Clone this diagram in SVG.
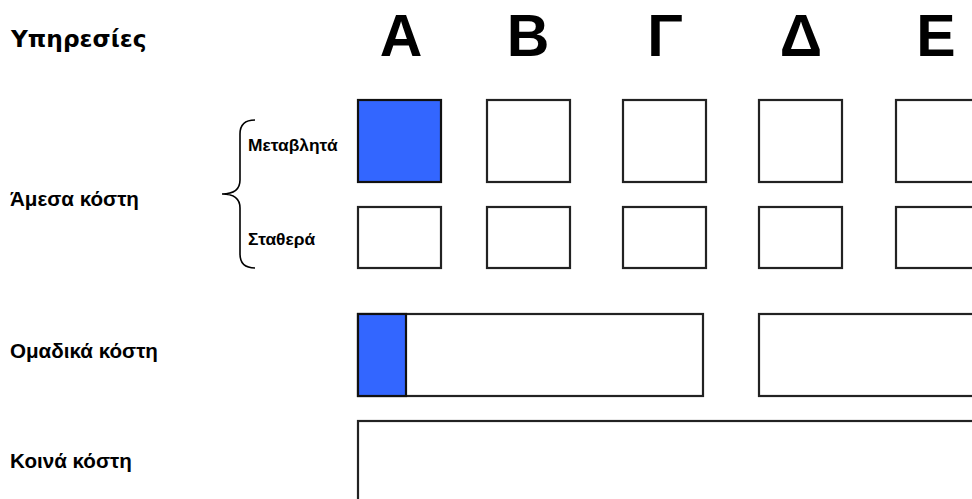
<svg xmlns="http://www.w3.org/2000/svg" width="972" height="499" viewBox="0 0 972 499">
<style>
.box{fill:#ffffff;stroke:#222222;stroke-width:2.2}
.blue{fill:#3366ff;stroke:#111111;stroke-width:2.2}
.hdr{font-family:"DejaVu Sans",sans-serif;font-weight:bold;font-size:23.3px;fill:#000}
.col{font-family:"Liberation Sans",Arial,sans-serif;font-weight:bold;font-size:59px;fill:#000;text-anchor:middle}
.row{font-family:"Liberation Sans",Arial,sans-serif;font-weight:bold;font-size:20.6px;fill:#000}
.sub{font-family:"Liberation Sans",Arial,sans-serif;font-weight:bold;font-size:17.4px;fill:#000}
.brace{fill:none;stroke:#000;stroke-width:1.6}
</style>
<rect width="972" height="499" fill="#ffffff"/>
<g id="headers">
<text class="hdr" x="11" y="47">Υπηρεσίες</text>
<text class="col" x="401" y="56">Α</text>
<text class="col" x="528" y="56">Β</text>
<text class="col" x="665" y="56">Γ</text>
<text class="col" x="801" y="56">Δ</text>
<text class="col" x="936" y="56">Ε</text>
</g>
<g id="row-labels">
<text class="row" x="10" y="206">Άμεσα κόστη</text>
<text class="row" x="10" y="358">Ομαδικά κόστη</text>
<text class="row" x="10" y="468">Κοινά κόστη</text>
<text class="sub" x="248" y="151">Μεταβλητά</text>
<text class="sub" x="248" y="245">Σταθερά</text>
</g>
<g id="brace">
<path class="brace" d="M255,120 C245,120 240,124 240,134 L240,180 C240,189 234,194 222,194 C234,194 240,199 240,208 L240,254 C240,264 245,268 255,268"/>
</g>
<g id="variable-costs">
<rect id="A-var" class="blue" x="358" y="100" width="83" height="82"/>
<rect id="B-var" class="box" x="487" y="100" width="83" height="82"/>
<rect id="G-var" class="box" x="623" y="100" width="83" height="82"/>
<rect id="D-var" class="box" x="759" y="100" width="83" height="82"/>
<rect id="E-var" class="box" x="896" y="100" width="83" height="82"/>
</g>
<g id="fixed-costs">
<rect id="A-fix" class="box" x="358" y="207" width="83" height="61"/>
<rect id="B-fix" class="box" x="487" y="207" width="83" height="61"/>
<rect id="G-fix" class="box" x="623" y="207" width="83" height="61"/>
<rect id="D-fix" class="box" x="759" y="207" width="83" height="61"/>
<rect id="E-fix" class="box" x="896" y="207" width="83" height="61"/>
</g>
<g id="group-costs">
<rect id="group-ABG" class="box" x="358" y="314" width="345" height="82"/>
<rect id="group-ABG-share" class="blue" x="358" y="314" width="48" height="82"/>
<rect id="group-DE" class="box" x="759" y="314" width="230" height="82"/>
</g>
<g id="common-costs">
<rect id="common" class="box" x="358" y="421" width="640" height="100"/>
</g>
</svg>
